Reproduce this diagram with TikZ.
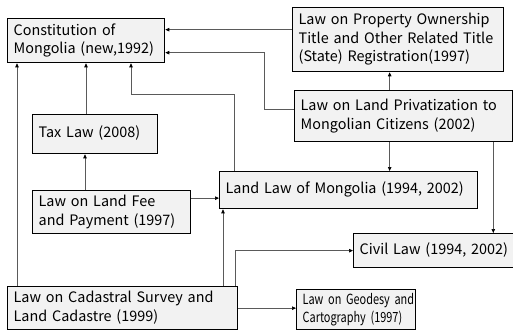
\documentclass[tikz,border=0pt]{standalone}
\usepackage{fontspec}
\setmainfont[WordSpace=1.1]{Noto Sans CJK KR}
\newfontfamily\narrowfont[FakeStretch=0.78]{Noto Sans CJK KR}
\usetikzlibrary{arrows.meta}
\definecolor{boxfill}{HTML}{F2F2F2}
\definecolor{linegray}{HTML}{5A5A5A}
\tikzset{
  lawbox/.style={draw=black, line width=1.3pt, fill=boxfill, anchor=north west,
    inner xsep=6pt, inner ysep=0pt, align=left,
    font=\fontsize{14.4}{18.5}\selectfont},
  narrowtext/.style={font=\narrowfont\fontsize{14}{18}\selectfont},
  conn/.style={draw=linegray, line width=0.7pt,
    -{Triangle[length=4pt,width=3.5pt,fill=black,color=black]}},
}
% #1 extra options, #2 name, #3 top-left corner, #4 width, #5 height, #6 lines of text
\newcommand{\lawnode}[6][]{%
  \node[lawbox, #1, minimum width=#4pt, minimum height=#5pt,
        text width={\dimexpr #4pt-12pt\relax}] (#2) at (#3)
    {\begin{tabular}{@{}l@{}}#6\end{tabular}};}
\begin{document}
\begin{tikzpicture}[x=1pt,y=-1pt]
\useasboundingbox (0,0) rectangle (513,331);

% boxes
\lawnode{const}{7,18}{157}{44}{Constitution of\\Mongolia (new,1992)}
\lawnode{prop}{292,7}{211}{64}{Law on Property Ownership\\Title and Other Related Title\\(State) Registration(1997)}
\lawnode{priv}{294,90}{218}{51}{Law on Land Privatization to\\Mongolian Citizens (2002)}
\lawnode{tax}{32,114}{125}{39}{Tax Law (2008)}
\lawnode{fee}{32,190}{158}{43}{Law on Land Fee\\and Payment (1997)}
\lawnode{land}{219,171}{258}{37}{Land Law of Mongolia (1994, 2002)}
\lawnode{civil}{353,233}{163}{34}{Civil Law (1994, 2002)}
\lawnode{cad}{7,286}{230}{43}{Law on Cadastral Survey and\\Land Cadastre (1999)}
\lawnode[narrowtext]{geo}{296,289}{119}{40}{Law on Geodesy and\\Cartography (1997)}

% connectors
\coordinate (p1) at ([yshift=10pt]prop.west);
\draw[conn] (p1) -- (p1 -| const.east);

\coordinate (c2) at ([yshift=-12pt]const.east);
\draw[conn] ([yshift=7pt]priv.west) -- ++(-30,0) |- (c2);

\coordinate (p3) at ([xshift=-14pt]priv.north);
\draw[conn] (p3) -- (p3 |- prop.south);

\coordinate (p4) at ([xshift=10pt]cad.north west);
\draw[conn] (p4) -- (p4 |- const.south);

\coordinate (p5) at ([xshift=54pt]tax.north west);
\draw[conn] (p5) -- (p5 |- const.south);

\coordinate (c6) at ([xshift=124pt]const.south west);
\draw[conn] ([xshift=15pt]land.north west) |- ([yshift=-31pt]c6) -- (c6);

\coordinate (p7) at ([xshift=53pt]fee.north west);
\draw[conn] (p7) -- (p7 |- tax.south);

\coordinate (p8) at ([yshift=14pt]fee.east);
\draw[conn] (p8) -- (p8 -| land.west);

\coordinate (p9) at ([xshift=-14pt]priv.south);
\draw[conn] (p9) -- (p9 |- land.north);

\coordinate (p10) at ([xshift=-20pt]priv.south east);
\draw[conn] (p10) -- (p10 |- civil.north);

\coordinate (p11) at ([xshift=216pt]cad.north west);
\draw[conn] (p11) -- (p11 |- land.south);

\draw[conn] ([xshift=228pt]cad.north west) |- (civil.west);

\draw[conn] (cad.east) -- (cad.east -| geo.west);
\end{tikzpicture}
\end{document}
